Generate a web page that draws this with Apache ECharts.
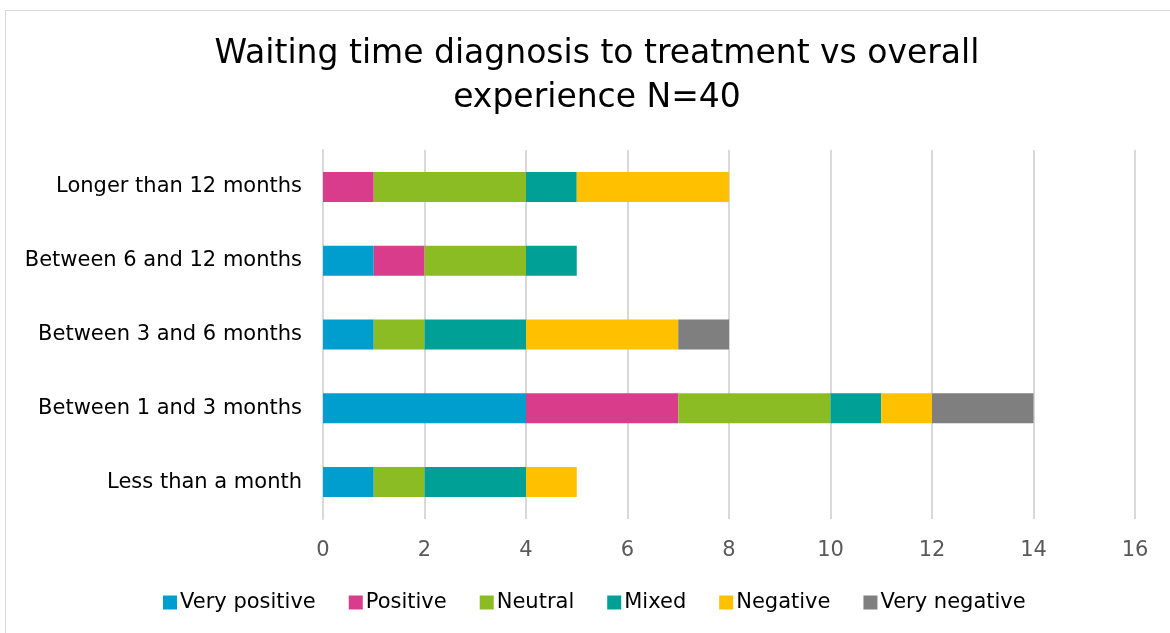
<!DOCTYPE html>
<html>
<head>
<meta charset="utf-8">
<script src="https://cdn.jsdelivr.net/npm/echarts@6/dist/echarts.min.js"></script>
<style>
html,body{margin:0;padding:0;background:#fff;}
#frame{position:absolute;left:5px;top:10px;width:1175px;height:640px;border:1px solid #d9d9d9;box-sizing:border-box;}
#chart{position:absolute;left:0;top:0;width:1170px;height:633px;}
</style>
</head>
<body>
<div id="frame"></div>
<div id="chart"></div>
<script>
const categories = ["Less than a month","Between 1 and 3 months","Between 3 and 6 months","Between 6 and 12 months","Longer than 12 months"];
const seriesNames = ["Very positive","Positive","Neutral","Mixed","Negative","Very negative"];
const veryPositive = [1,4,1,1,0];
const positive     = [0,3,0,1,1];
const neutral      = [1,3,1,2,3];
const mixed        = [2,1,2,1,1];
const negative     = [1,1,3,0,3];
const veryNegative = [0,2,1,0,0];
const colors = ["#009ECE","#DA3C8C","#8BBC24","#00A096","#FFC000","#7F7F7F"];
const values = [veryPositive,positive,neutral,mixed,negative,veryNegative];
const font = "DejaVu Sans";

const chart = echarts.init(document.getElementById('chart'), null, {renderer:'canvas'});
chart.setOption({
  animation:false,
  backgroundColor:'transparent',
  title:{
    text:'Waiting time diagnosis to treatment vs overall\nexperience N=40',
    left:592, top:27, textAlign:'center',
    textStyle:{fontFamily:font,fontSize:33,fontWeight:'normal',color:'#000',lineHeight:44}
  },
  legend:{
    top:587, left:158,
    itemWidth:14, itemHeight:14, itemGap:33,
    icon:'rect',
    textStyle:{fontFamily:font,fontSize:21,color:'#000',padding:[0,0,0,-2]},
    data:seriesNames
  },
  grid:{left:323,right:35,top:150,bottom:114},
  xAxis:{
    type:'value',min:0,max:16,interval:2,
    axisLine:{show:false},axisTick:{show:false},
    axisLabel:{fontFamily:font,fontSize:21,color:'#595959',margin:21},
    splitLine:{lineStyle:{color:'#d9d9d9',width:2}}
  },
  yAxis:{
    type:'category',data:categories,
    axisLine:{lineStyle:{color:'#d9d9d9',width:2}},axisTick:{show:false},
    axisLabel:{fontFamily:font,fontSize:21,color:'#000',margin:21}
  },
  series:seriesNames.map((n,i)=>({
    name:n,type:'bar',stack:'total',barWidth:30,
    itemStyle:{color:colors[i]},
    data:values[i]
  }))
});
</script>
</body>
</html>
